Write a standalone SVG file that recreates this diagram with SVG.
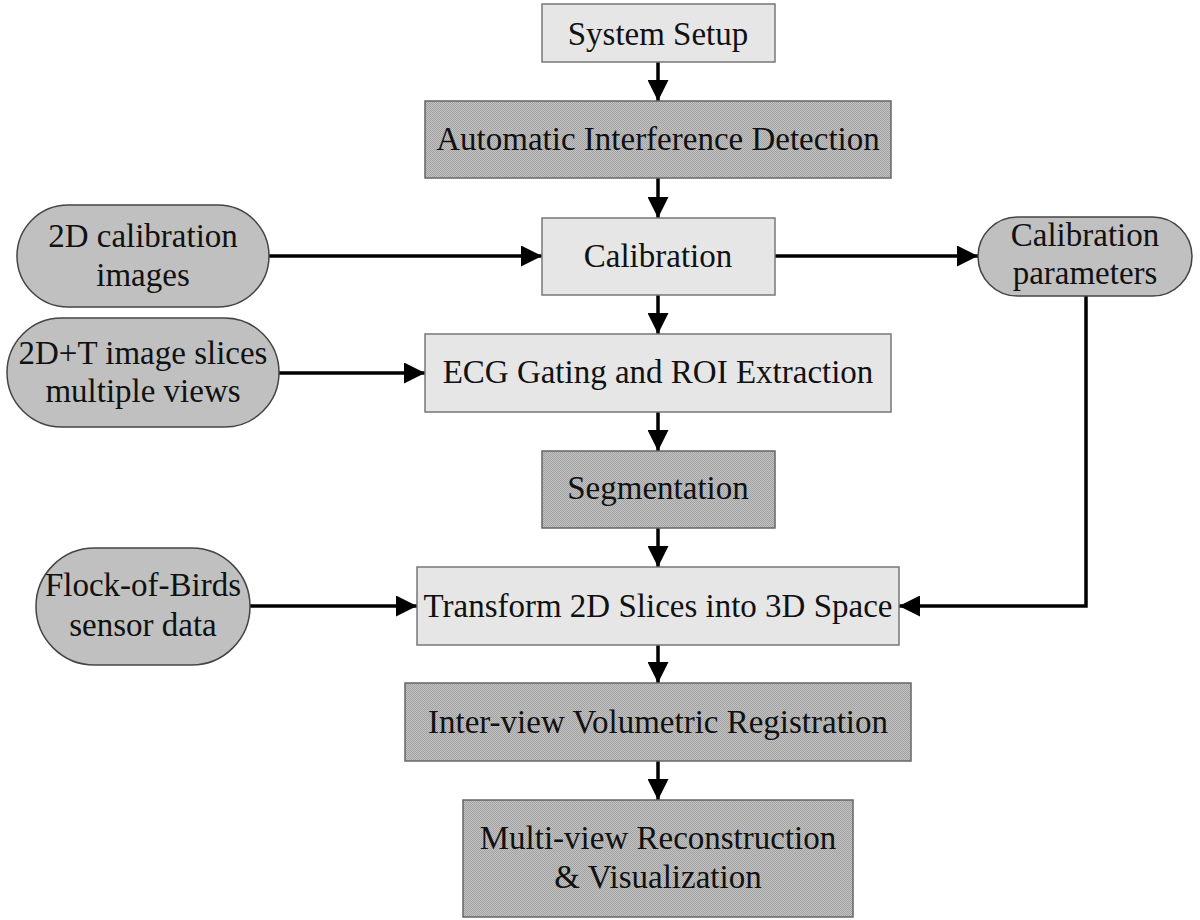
<svg xmlns="http://www.w3.org/2000/svg" width="1200" height="920" viewBox="0 0 1200 920">
<style>
text{font-family:"Liberation Serif","Times New Roman",serif;font-size:33px;fill:#111;text-anchor:middle}
.light{fill:#e6e6e6;stroke:#777;stroke-width:1.5}
.dark{fill:url(#hatch);stroke:#666;stroke-width:1.5}
.pill{fill:#c0c0c0;stroke:#444;stroke-width:1.5}
.conn{fill:none;stroke:#000;stroke-width:3.5}
</style>
<defs>
<pattern id="hatch" width="2" height="2" patternUnits="userSpaceOnUse">
<rect width="2" height="2" fill="#c2c2c2"/>
<rect width="1" height="1" fill="#a2a2a2"/>
<rect x="1" y="1" width="1" height="1" fill="#a2a2a2"/>
</pattern>
<marker id="ah" markerWidth="6" markerHeight="6" refX="6" refY="3" orient="auto" markerUnits="strokeWidth">
<path d="M0,0 L6,3 L0,6 Z" fill="#000"/>
</marker>
</defs>
<rect width="1200" height="920" fill="#fff"/>
<g id="connectors">
<line class="conn" x1="658" y1="62" x2="658" y2="101" marker-end="url(#ah)"/>
<line class="conn" x1="658" y1="178" x2="658" y2="218" marker-end="url(#ah)"/>
<line class="conn" x1="658" y1="295" x2="658" y2="334" marker-end="url(#ah)"/>
<line class="conn" x1="658" y1="412" x2="658" y2="451" marker-end="url(#ah)"/>
<line class="conn" x1="658" y1="528" x2="658" y2="567" marker-end="url(#ah)"/>
<line class="conn" x1="658" y1="645" x2="658" y2="683" marker-end="url(#ah)"/>
<line class="conn" x1="658" y1="761" x2="658" y2="800" marker-end="url(#ah)"/>
<line class="conn" x1="269" y1="256" x2="542" y2="256" marker-end="url(#ah)"/>
<line class="conn" x1="775" y1="256" x2="978" y2="256" marker-end="url(#ah)"/>
<line class="conn" x1="279" y1="373" x2="425" y2="373" marker-end="url(#ah)"/>
<line class="conn" x1="250" y1="606" x2="417" y2="606" marker-end="url(#ah)"/>
<polyline class="conn" points="1086,296 1086,606 899,606" marker-end="url(#ah)"/>
</g>
<g id="system-setup"><rect class="light" x="542" y="4" width="233" height="58"/><text x="658" y="45">System Setup</text></g>
<g id="auto-interference"><rect class="dark" x="425" y="101" width="466" height="77"/><text x="658" y="150">Automatic Interference Detection</text></g>
<g id="calibration"><rect class="light" x="542" y="218" width="233" height="77"/><text x="658" y="267">Calibration</text></g>
<g id="calib-images"><rect class="pill" x="17" y="205" width="252" height="102" rx="51"/><text x="143" y="247">2D calibration</text><text x="143" y="286">images</text></g>
<g id="calib-params"><rect class="pill" x="978" y="217" width="214" height="79" rx="39.5"/><text x="1085" y="246">Calibration</text><text x="1085" y="284">parameters</text></g>
<g id="slices"><rect class="pill" x="7" y="318" width="272" height="109" rx="54.5"/><text x="143" y="364">2D+T image slices</text><text x="143" y="402">multiple views</text></g>
<g id="ecg"><rect class="light" x="425" y="334" width="466" height="78"/><text x="658" y="383">ECG Gating and ROI Extraction</text></g>
<g id="segmentation"><rect class="dark" x="542" y="451" width="233" height="77"/><text x="658" y="499">Segmentation</text></g>
<g id="flock"><rect class="pill" x="36" y="548" width="214" height="117" rx="58.5"/><text x="143" y="596">Flock-of-Birds</text><text x="143" y="636">sensor data</text></g>
<g id="transform"><rect class="light" x="417" y="567" width="482" height="78"/><text x="658" y="617">Transform 2D Slices into 3D Space</text></g>
<g id="inter-view"><rect class="dark" x="405" y="683" width="506" height="78"/><text x="658" y="733">Inter-view Volumetric Registration</text></g>
<g id="multi-view"><rect class="dark" x="463" y="800" width="390" height="117"/><text x="658" y="849">Multi-view Reconstruction</text><text x="658" y="888">&amp; Visualization</text></g>
</svg>
